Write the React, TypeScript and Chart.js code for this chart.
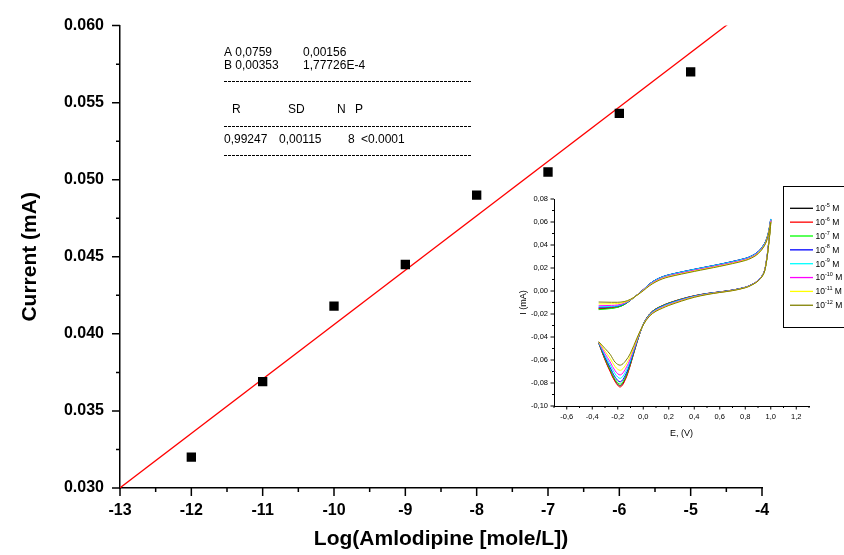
import React, { useEffect, useRef } from 'react';
import { Chart, registerables } from 'chart.js';

Chart.register(...registerables);

const FONT = '"Liberation Sans", Arial, Helvetica, sans-serif';

// ---------- main calibration plot ----------
const LOG_CONC = [-12, -11, -10, -9, -8, -7, -6, -5];
const CURRENT_MA = [0.032, 0.0369, 0.0418, 0.0445, 0.049, 0.0505, 0.0543, 0.057];
const FIT_A = 0.0759;
const FIT_B = 0.00353;
const FIT_RANGE = [-13, -4];
const X_TICKS = [-13, -12, -11, -10, -9, -8, -7, -6, -5, -4];
const Y_TICKS = [0.03, 0.035, 0.04, 0.045, 0.05, 0.055, 0.06];

const FIT_ROWS = [
  ['A', '0,0759', '0,00156'],
  ['B', '0,00353', '1,77726E-4'],
];
const STATS_HEADER = ['R', 'SD', 'N', 'P'];
const STATS_VALUES = ['0,99247', '0,00115', '8', '<0.0001'];

// ---------- inset cyclic voltammograms ----------
const E_FORWARD = [-0.35, -0.3, -0.25, -0.2, -0.15, -0.1, -0.05, 0, 0.05, 0.1, 0.15, 0.2, 0.3, 0.4, 0.5, 0.6, 0.7, 0.8, 0.85, 0.9, 0.95, 0.98, 1.0];
const E_REVERSE = [0.98, 0.96, 0.94, 0.9, 0.85, 0.8, 0.7, 0.6, 0.5, 0.4, 0.3, 0.2, 0.15, 0.1, 0.05, 0, -0.05, -0.1, -0.14, -0.18, -0.22, -0.26, -0.3, -0.35];

const FWD_M5 = [-0.0155, -0.0152, -0.0148, -0.014, -0.0118, -0.008, -0.0035, 0.0012, 0.0062, 0.0098, 0.0123, 0.014, 0.0165, 0.0188, 0.021, 0.0232, 0.0256, 0.0283, 0.0305, 0.034, 0.041, 0.05, 0.062];
const FWD_M6 = [-0.015, -0.0148, -0.0145, -0.0138, -0.0117, -0.008, -0.0035, 0.0012, 0.006, 0.0096, 0.0121, 0.0138, 0.0163, 0.0186, 0.0208, 0.023, 0.0254, 0.0281, 0.0303, 0.0338, 0.0405, 0.0495, 0.0615];
const FWD_M7 = [-0.0162, -0.0158, -0.0152, -0.0142, -0.0119, -0.0081, -0.0036, 0.001, 0.006, 0.0096, 0.0121, 0.0138, 0.0163, 0.0186, 0.0208, 0.023, 0.0254, 0.0281, 0.0303, 0.0338, 0.0405, 0.0495, 0.0612];
const FWD_M8 = [-0.0142, -0.014, -0.0137, -0.0132, -0.0113, -0.0079, -0.0035, 0.0012, 0.0062, 0.0099, 0.0124, 0.0141, 0.0166, 0.0189, 0.0211, 0.0233, 0.0257, 0.0284, 0.0306, 0.0341, 0.041, 0.05, 0.0625];
const FWD_M9 = [-0.0138, -0.0136, -0.0133, -0.0128, -0.011, -0.0078, -0.0035, 0.0011, 0.006, 0.0097, 0.0122, 0.0139, 0.0164, 0.0187, 0.0209, 0.0231, 0.0255, 0.0282, 0.0304, 0.0339, 0.0408, 0.0498, 0.0622];
const FWD_M10 = [-0.0128, -0.0127, -0.0125, -0.0121, -0.0106, -0.0077, -0.0036, 0.0008, 0.0055, 0.009, 0.0115, 0.0132, 0.0157, 0.018, 0.0202, 0.0224, 0.0248, 0.0275, 0.0297, 0.0333, 0.04, 0.049, 0.061];
const FWD_M11 = [-0.0112, -0.0112, -0.0111, -0.0109, -0.0099, -0.0075, -0.0037, 0.0005, 0.005, 0.0084, 0.0109, 0.0126, 0.0151, 0.0174, 0.0196, 0.0218, 0.0242, 0.0269, 0.0291, 0.0327, 0.0395, 0.0485, 0.06];
const FWD_M12 = [-0.0096, -0.0097, -0.0098, -0.0098, -0.0092, -0.0072, -0.0038, 0.0002, 0.0046, 0.008, 0.0105, 0.0122, 0.0147, 0.017, 0.0192, 0.0214, 0.0238, 0.0265, 0.0287, 0.0323, 0.0392, 0.0482, 0.0595];

const REV_M5 = [0.038, 0.022, 0.0145, 0.009, 0.0055, 0.0032, 0.0008, -0.0008, -0.0022, -0.0042, -0.007, -0.0105, -0.0128, -0.0155, -0.02, -0.029, -0.0448, -0.0635, -0.0762, -0.0825, -0.0782, -0.0693, -0.0595, -0.045];
const REV_M6 = [0.038, 0.022, 0.0145, 0.009, 0.0055, 0.0032, 0.0008, -0.0008, -0.0022, -0.0041, -0.0069, -0.0104, -0.0127, -0.0154, -0.02, -0.0292, -0.045, -0.064, -0.077, -0.0835, -0.079, -0.07, -0.06, -0.045];
const REV_M7 = [0.037, 0.0215, 0.0142, 0.0088, 0.0054, 0.0031, 0.0007, -0.0009, -0.0023, -0.0043, -0.0071, -0.0106, -0.0129, -0.0156, -0.0202, -0.0293, -0.0445, -0.0627, -0.0749, -0.081, -0.0769, -0.0681, -0.0587, -0.0449];
const REV_M8 = [0.0385, 0.0222, 0.0147, 0.0091, 0.0056, 0.0033, 0.0008, -0.0008, -0.0023, -0.0044, -0.0073, -0.0109, -0.0132, -0.0159, -0.0204, -0.0292, -0.044, -0.0616, -0.0732, -0.079, -0.075, -0.0664, -0.0576, -0.0448];
const REV_M9 = [0.038, 0.022, 0.0145, 0.009, 0.0055, 0.0031, 0.0006, -0.001, -0.0025, -0.0046, -0.0076, -0.0112, -0.0135, -0.0162, -0.0206, -0.0292, -0.0434, -0.06, -0.0706, -0.076, -0.0722, -0.064, -0.056, -0.0446];
const REV_M10 = [0.0375, 0.0218, 0.0143, 0.0089, 0.0054, 0.003, 0.0005, -0.0011, -0.0027, -0.0049, -0.008, -0.0117, -0.014, -0.0167, -0.021, -0.0293, -0.0428, -0.0584, -0.068, -0.073, -0.0695, -0.0616, -0.0544, -0.0444];
const REV_M11 = [0.037, 0.0215, 0.0141, 0.0087, 0.0052, 0.0029, 0.0004, -0.0012, -0.0029, -0.0052, -0.0084, -0.0122, -0.0145, -0.0172, -0.0214, -0.0294, -0.0419, -0.0563, -0.0647, -0.069, -0.0659, -0.0585, -0.0523, -0.0442];
const REV_M12 = [0.0365, 0.0212, 0.0139, 0.0086, 0.0051, 0.0028, 0.0003, -0.0013, -0.0031, -0.0055, -0.0088, -0.0126, -0.015, -0.0176, -0.0218, -0.0295, -0.041, -0.054, -0.061, -0.0645, -0.062, -0.055, -0.05, -0.044];

const SERIES_EXPONENTS = ['-5', '-6', '-7', '-8', '-9', '-10', '-11', '-12'];
const SERIES_COLORS = ['#000000', '#ff0000', '#00ff00', '#0000ff', '#00ffff', '#ff00ff', '#ffff00', '#808000'];
const SERIES_FWD = [FWD_M5, FWD_M6, FWD_M7, FWD_M8, FWD_M9, FWD_M10, FWD_M11, FWD_M12];
const SERIES_REV = [REV_M5, REV_M6, REV_M7, REV_M8, REV_M9, REV_M10, REV_M11, REV_M12];

const INSET_X_TICKS = [-0.6, -0.4, -0.2, 0, 0.2, 0.4, 0.6, 0.8, 1.0, 1.2];
const INSET_X_MINOR = [-0.7, -0.5, -0.3, -0.1, 0.1, 0.3, 0.5, 0.7, 0.9, 1.1, 1.3];
const INSET_Y_TICKS = [-0.1, -0.08, -0.06, -0.04, -0.02, 0, 0.02, 0.04, 0.06, 0.08];
const INSET_Y_MINOR = [-0.09, -0.07, -0.05, -0.03, -0.01, 0.01, 0.03, 0.05, 0.07];

function midpoints(arr: number[]) {
  const out: number[] = [];
  for (let i = 0; i < arr.length - 1; i++) out.push((arr[i] + arr[i + 1]) / 2);
  return out;
}

function drawTicks(chart: any, xMaj: number[], xMin: number[], yMaj: number[], yMin: number[], majLen: number, minLen: number, lw: number) {
  const { ctx, chartArea } = chart;
  const xs = chart.scales.x;
  const ys = chart.scales.y;
  ctx.save();
  ctx.strokeStyle = '#000';
  ctx.lineWidth = lw;
  ctx.beginPath();
  const b = chartArea.bottom;
  const l = chartArea.left;
  xMaj.forEach((v) => { const p = xs.getPixelForValue(v); ctx.moveTo(p, b); ctx.lineTo(p, b + majLen); });
  xMin.forEach((v) => { const p = xs.getPixelForValue(v); ctx.moveTo(p, b); ctx.lineTo(p, b + minLen); });
  yMaj.forEach((v) => { const p = ys.getPixelForValue(v); ctx.moveTo(l, p); ctx.lineTo(l - majLen, p); });
  yMin.forEach((v) => { const p = ys.getPixelForValue(v); ctx.moveTo(l, p); ctx.lineTo(l - minLen, p); });
  ctx.stroke();
  ctx.restore();
}

export default function App() {
  const mainRef = useRef<HTMLCanvasElement>(null);
  const insetRef = useRef<HTMLCanvasElement>(null);

  useEffect(() => {
    const mainTicksPlugin = {
      id: 'mainTicks',
      afterDraw(chart: any) {
        drawTicks(chart, X_TICKS, midpoints(X_TICKS), Y_TICKS, midpoints(Y_TICKS), 8, 4, 1.5);
        const ctx = chart.ctx;
        ctx.save();
        ctx.fillStyle = '#000';
        ctx.font = `12px ${FONT}`;
        ctx.textBaseline = 'middle';
        ctx.textAlign = 'left';
        const rowY = [53, 66];
        FIT_ROWS.forEach((r, i) => {
          ctx.fillText(`${r[0]} ${r[1]}`, 224, rowY[i]);
          ctx.fillText(r[2], 303, rowY[i]);
        });
        const hx = [232, 288, 337, 355];
        STATS_HEADER.forEach((t, i) => ctx.fillText(t, hx[i], 110));
        const vx = [224, 279, 348, 361];
        STATS_VALUES.forEach((t, i) => ctx.fillText(t, vx[i], 139.5));
        ctx.strokeStyle = '#000';
        ctx.lineWidth = 1;
        ctx.setLineDash([3, 1]);
        [81.5, 126.5, 155.5].forEach((y) => {
          ctx.beginPath();
          ctx.moveTo(224, y);
          ctx.lineTo(472, y);
          ctx.stroke();
        });
        ctx.restore();
      },
    };

    const main = new Chart(mainRef.current as HTMLCanvasElement, {
      type: 'scatter',
      data: {
        datasets: [
          {
            label: 'data',
            data: LOG_CONC.map((x, i) => ({ x, y: CURRENT_MA[i] })),
            pointStyle: 'rect',
            pointRadius: 6.6,
            backgroundColor: '#000',
            borderColor: '#000',
            borderWidth: 0,
            showLine: false,
            order: 0,
          },
          {
            label: 'fit',
            data: FIT_RANGE.map((x) => ({ x, y: FIT_A + FIT_B * x })),
            showLine: true,
            borderColor: '#ff0000',
            borderWidth: 1.3,
            pointRadius: 0,
            order: 1,
          } as any,
        ],
      },
      options: {
        responsive: false,
        animation: false,
        devicePixelRatio: 1,
        layout: { padding: { left: 0, top: 24, right: 82, bottom: 0 } },
        plugins: { legend: { display: false }, tooltip: { enabled: false } },
        scales: {
          x: {
            type: 'linear',
            min: -13,
            max: -4,
            afterBuildTicks: (s: any) => { s.ticks = X_TICKS.map((v) => ({ value: v })); },
            afterFit: (s: any) => { s.height = 67; },
            grid: { display: false, drawTicks: false },
            border: { display: true, color: '#000', width: 1.5 },
            ticks: {
              color: '#000',
              font: { family: FONT, size: 16, weight: 'bold' },
              padding: 13,
              autoSkip: false,
              maxRotation: 0,
              callback: (v: any) => String(v),
            },
            title: {
              display: true,
              text: 'Log(Amlodipine [mole/L])',
              color: '#000',
              font: { family: FONT, size: 21, weight: 'bold' },
              padding: { top: 0, bottom: 3 },
            },
          },
          y: {
            type: 'linear',
            min: 0.03,
            max: 0.06,
            afterBuildTicks: (s: any) => { s.ticks = Y_TICKS.map((v) => ({ value: v })); },
            afterFit: (s: any) => { s.width = 120; },
            grid: { display: false, drawTicks: false },
            border: { display: true, color: '#000', width: 1.5 },
            ticks: {
              color: '#000',
              font: { family: FONT, size: 16, weight: 'bold' },
              padding: 16,
              callback: (v: any) => Number(v).toFixed(3),
            },
            title: {
              display: true,
              text: 'Current (mA)',
              color: '#000',
              font: { family: FONT, size: 21, weight: 'bold' },
              padding: { top: 18, bottom: 0 },
            },
          },
        },
      },
      plugins: [mainTicksPlugin],
    } as any);

    const insetPlugin = {
      id: 'insetExtras',
      afterDraw(chart: any) {
        drawTicks(chart, INSET_X_TICKS, INSET_X_MINOR, INSET_Y_TICKS, INSET_Y_MINOR, 3.5, 2, 1);
        const ctx = chart.ctx;
        ctx.save();
        // legend box
        ctx.fillStyle = '#fff';
        ctx.fillRect(293.5, 16.5, 70, 141);
        ctx.strokeStyle = '#000';
        ctx.lineWidth = 1;
        ctx.strokeRect(293.5, 16.5, 70, 141);
        ctx.textBaseline = 'middle';
        ctx.textAlign = 'left';
        SERIES_EXPONENTS.forEach((ex, i) => {
          const y = 38.3 + i * 13.85;
          ctx.strokeStyle = SERIES_COLORS[i];
          ctx.lineWidth = 1.3;
          ctx.beginPath();
          ctx.moveTo(300, y);
          ctx.lineTo(323, y);
          ctx.stroke();
          ctx.fillStyle = '#000';
          ctx.font = `8.5px ${FONT}`;
          ctx.fillText('10', 325.5, y + 0.5);
          let x = 325.5 + ctx.measureText('10').width;
          ctx.font = `5.5px ${FONT}`;
          ctx.fillText(ex, x, y - 3);
          x += ctx.measureText(ex).width;
          ctx.font = `8.5px ${FONT}`;
          ctx.fillText(' M', x, y + 0.5);
        });
        ctx.restore();
      },
    };

    const inset = new Chart(insetRef.current as HTMLCanvasElement, {
      type: 'scatter',
      data: {
        datasets: SERIES_EXPONENTS.map((ex, i) => ({
          label: `10^${ex} M`,
          data: [
            ...E_FORWARD.map((e, k) => ({ x: e, y: SERIES_FWD[i][k] })),
            ...E_REVERSE.map((e, k) => ({ x: e, y: SERIES_REV[i][k] })),
          ],
          showLine: true,
          borderColor: SERIES_COLORS[i],
          backgroundColor: SERIES_COLORS[i],
          borderWidth: 1,
          pointRadius: 0,
          tension: 0.35,
          order: SERIES_EXPONENTS.length - i,
        })),
      },
      options: {
        responsive: false,
        animation: false,
        devicePixelRatio: 1,
        layout: { padding: { left: 0, top: 29, right: 35, bottom: 0 } },
        plugins: { legend: { display: false }, tooltip: { enabled: false } },
        scales: {
          x: {
            type: 'linear',
            min: -0.7,
            max: 1.3,
            afterBuildTicks: (s: any) => { s.ticks = INSET_X_TICKS.map((v) => ({ value: v })); },
            afterFit: (s: any) => { s.height = 39; },
            grid: { display: false, drawTicks: false },
            border: { display: true, color: '#000', width: 1 },
            ticks: {
              color: '#000',
              font: { family: FONT, size: 7.5 },
              padding: 6,
              autoSkip: false,
              maxRotation: 0,
              callback: (v: any) => Number(v).toFixed(1).replace('.', ','),
            },
            title: {
              display: true,
              text: 'E, (V)',
              color: '#000',
              font: { family: FONT, size: 9 },
              padding: { top: 0, bottom: 6 },
            },
          },
          y: {
            type: 'linear',
            min: -0.1,
            max: 0.08,
            afterBuildTicks: (s: any) => { s.ticks = INSET_Y_TICKS.map((v) => ({ value: v })); },
            afterFit: (s: any) => { s.width = 64; },
            grid: { display: false, drawTicks: false },
            border: { display: true, color: '#000', width: 1 },
            ticks: {
              color: '#000',
              font: { family: FONT, size: 7.5 },
              padding: 6,
              callback: (v: any) => Number(v).toFixed(2).replace('.', ','),
            },
            title: {
              display: true,
              text: 'I (mA)',
              color: '#000',
              font: { family: FONT, size: 9 },
              padding: { top: 28, bottom: 0 },
            },
          },
        },
      },
      plugins: [insetPlugin],
    } as any);

    return () => {
      main.destroy();
      inset.destroy();
    };
  }, []);

  return (
    <div style={{ position: 'absolute', left: 0, top: 0, width: 844, height: 555, background: '#fff', overflow: 'hidden' }}>
      <canvas ref={mainRef} width={844} height={555} style={{ position: 'absolute', left: 0, top: 0 }} />
      <canvas ref={insetRef} width={354} height={275} style={{ position: 'absolute', left: 490, top: 170 }} />
    </div>
  );
}
